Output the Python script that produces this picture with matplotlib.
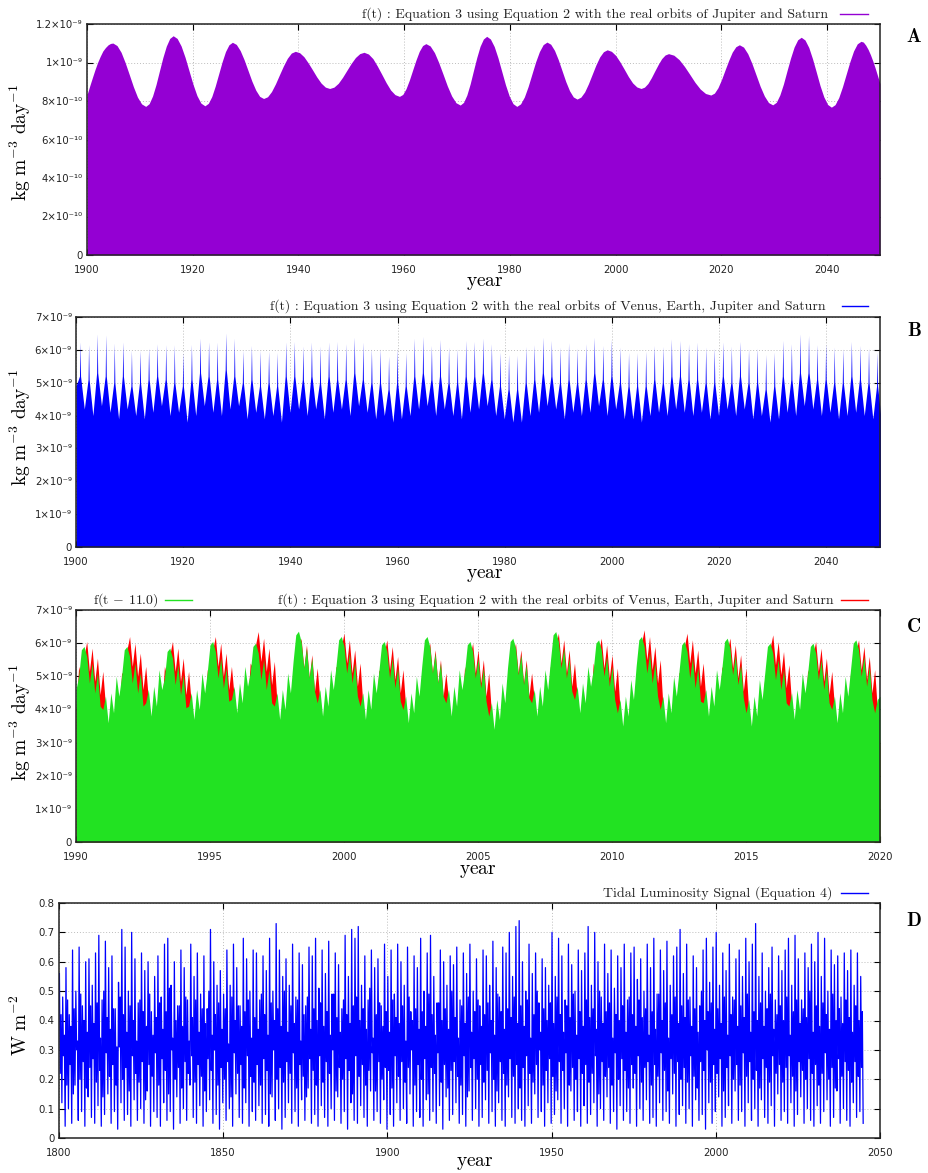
import numpy as np
import matplotlib
matplotlib.use("Agg")
import matplotlib.pyplot as plt
from matplotlib.lines import Line2D

plt.rcParams['mathtext.fontset'] = 'cm'
plt.rcParams['font.family'] = ['DejaVu Sans']

# ---------------- Panel A data (units of 1e-9 kg m^-3 day^-1), read along the upper envelope ----------------
A_year = [1900.0, 1900.5, 1901.0, 1901.5, 1902.0, 1902.5, 1903.0, 1903.5, 1904.0, 1904.45,
          1904.9, 1905.675, 1906.45, 1907.225, 1908.0, 1908.775, 1909.55, 1910.325,
          1911.1, 1911.75, 1912.4, 1913.05, 1913.7, 1914.35, 1915.0, 1915.65,
          1916.3, 1917.05, 1917.8, 1918.55, 1919.3, 1920.05, 1920.8, 1921.55,
          1922.3, 1922.95, 1923.6, 1924.25, 1924.9, 1925.55, 1926.2, 1926.85,
          1927.5, 1928.24, 1928.98, 1929.71, 1930.45, 1931.19, 1931.93, 1932.66,
          1933.4, 1934.15, 1934.9, 1935.65, 1936.4, 1937.15, 1937.9, 1938.65,
          1939.4, 1940.21, 1941.03, 1941.84, 1942.65, 1943.46, 1944.28, 1945.09,
          1945.9, 1946.71, 1947.53, 1948.34, 1949.15, 1949.96, 1950.78, 1951.59,
          1952.4, 1953.24, 1954.08, 1954.91, 1955.75, 1956.59, 1957.43, 1958.26,
          1959.1, 1959.73, 1960.35, 1960.98, 1961.6, 1962.23, 1962.85, 1963.48,
          1964.1, 1964.91, 1965.73, 1966.54, 1967.35, 1968.16, 1968.98, 1969.79,
          1970.6, 1971.23, 1971.85, 1972.48, 1973.1, 1973.73, 1974.35, 1974.98,
          1975.6, 1976.31, 1977.03, 1977.74, 1978.45, 1979.16, 1979.88, 1980.59,
          1981.3, 1982.01, 1982.73, 1983.44, 1984.15, 1984.86, 1985.58, 1986.29,
          1987.0, 1987.71, 1988.43, 1989.14, 1989.85, 1990.56, 1991.28, 1991.99,
          1992.7, 1993.41, 1994.13, 1994.84, 1995.55, 1996.26, 1996.98, 1997.69,
          1998.4, 1999.2, 2000.0, 2000.8, 2001.6, 2002.4, 2003.2, 2004.0,
          2004.8, 2005.45, 2006.1, 2006.75, 2007.4, 2008.05, 2008.7, 2009.35,
          2010.0, 2011.0, 2012.0, 2013.0, 2014.0, 2015.0, 2016.0, 2017.0,
          2018.0, 2018.68, 2019.35, 2020.03, 2020.7, 2021.38, 2022.05, 2022.73,
          2023.4, 2024.19, 2024.98, 2025.76, 2026.55, 2027.34, 2028.13, 2028.91,
          2029.7, 2030.38, 2031.05, 2031.73, 2032.4, 2033.08, 2033.75, 2034.43,
          2035.1, 2035.81, 2036.53, 2037.24, 2037.95, 2038.66, 2039.38, 2040.09,
          2040.8, 2041.5, 2042.2, 2042.9, 2043.6, 2044.3, 2045.0, 2045.7,
          2046.4, 2046.85, 2047.3, 2047.75, 2048.2, 2048.65, 2049.1, 2049.55, 2050.0]
A_val = [0.832, 0.877, 0.920, 0.962, 1.000, 1.032, 1.060, 1.078, 1.092, 1.099,
         1.101, 1.088, 1.053, 0.999, 0.937, 0.874, 0.820, 0.785,
         0.772, 0.786, 0.826, 0.885, 0.956, 1.026, 1.085, 1.125,
         1.139, 1.125, 1.086, 1.027, 0.957, 0.887, 0.828, 0.789,
         0.775, 0.788, 0.823, 0.877, 0.940, 1.003, 1.057, 1.092,
         1.105, 1.094, 1.062, 1.015, 0.959, 0.903, 0.856, 0.824,
         0.813, 0.822, 0.849, 0.889, 0.936, 0.982, 1.022, 1.049,
         1.058, 1.051, 1.030, 0.998, 0.962, 0.925, 0.893, 0.872,
         0.865, 0.872, 0.892, 0.923, 0.959, 0.995, 1.026, 1.046,
         1.053, 1.044, 1.020, 0.982, 0.939, 0.895, 0.857, 0.833,
         0.824, 0.834, 0.864, 0.909, 0.961, 1.013, 1.058, 1.088,
         1.098, 1.086, 1.051, 0.999, 0.939, 0.878, 0.826, 0.791,
         0.779, 0.793, 0.831, 0.889, 0.958, 1.026, 1.084, 1.122,
         1.136, 1.122, 1.083, 1.024, 0.954, 0.884, 0.825, 0.786,
         0.772, 0.785, 0.821, 0.875, 0.939, 1.003, 1.057, 1.093,
         1.106, 1.095, 1.063, 1.015, 0.958, 0.901, 0.853, 0.821,
         0.810, 0.820, 0.847, 0.889, 0.938, 0.987, 1.029, 1.056,
         1.066, 1.058, 1.037, 1.004, 0.966, 0.927, 0.894, 0.873,
         0.865, 0.872, 0.891, 0.921, 0.956, 0.990, 1.020, 1.039,
         1.046, 1.038, 1.015, 0.980, 0.939, 0.897, 0.862, 0.839,
         0.831, 0.841, 0.869, 0.912, 0.962, 1.011, 1.054, 1.082,
         1.092, 1.080, 1.046, 0.996, 0.936, 0.876, 0.826, 0.792,
         0.780, 0.793, 0.831, 0.888, 0.956, 1.023, 1.080, 1.118,
         1.131, 1.117, 1.078, 1.019, 0.950, 0.880, 0.821, 0.782,
         0.768, 0.781, 0.818, 0.874, 0.939, 1.004, 1.060, 1.097,
         1.110, 1.106, 1.090, 1.068, 1.040, 1.007, 0.970, 0.930, 0.890]

# ---------------- Panel B data (units of 1e-9) ----------------
B_first_spike = 1900.75
B_period = 1.599          # spacing of the tall spikes (Venus-Earth synodic period)
B_peak = [6.24, 6.16, 6.49, 6.46, 6.21, 6.24, 5.99, 5.99, 6.06, 6.19,
          6.16, 6.16, 5.92, 6.17, 6.36, 6.24, 6.24, 6.52, 6.36, 5.99,
          6.14, 5.99, 5.96, 5.92, 6.24, 6.26, 6.12, 6.24, 6.12, 6.24,
          6.26, 6.19, 6.39, 6.24, 6.04, 6.04, 5.81, 6.04, 5.92, 6.36,
          6.41, 6.14, 6.32, 6.09, 6.04,
          6.29, 6.26, 6.36, 6.19, 5.94, 5.86, 5.84, 6.11, 6.16, 6.39,
          6.29, 6.09, 6.22, 6.06, 6.19, 6.39, 6.14, 6.32, 6.09, 5.92,
          5.92, 5.96, 6.14, 6.11, 6.34, 6.29, 6.19, 6.24, 6.09, 6.06,
          6.24, 6.12, 6.26, 6.04, 6.06, 5.86, 5.94, 6.29, 6.19, 6.49,
          6.44, 6.16, 6.19, 6.09, 6.04, 6.26, 6.14, 6.06, 5.94]
B_second = [5.2, 5.1, 5.3, 5.2, 5.0, 5.2, 4.9, 5.0, 5.1, 5.2,
            5.1, 5.0, 4.9, 5.1, 5.3, 5.2, 5.1, 5.4, 5.2, 5.0,
            5.1, 4.9, 5.0, 4.9, 5.2, 5.2, 5.1, 5.2, 5.0, 5.2,
            5.1, 5.1, 5.3, 5.1, 5.0, 5.0, 4.8, 5.0, 4.9, 5.2,
            5.3, 5.1, 5.2, 5.0, 5.0,
            5.2, 5.2, 5.3, 5.1, 4.9, 4.8, 4.8, 5.0, 5.1, 5.3,
            5.2, 5.0, 5.1, 5.0, 5.1, 5.3, 5.1, 5.2, 5.0, 4.9,
            4.9, 4.9, 5.1, 5.0, 5.2, 5.2, 5.1, 5.1, 5.0, 5.0,
            5.2, 5.0, 5.2, 5.0, 5.0, 4.8, 4.9, 5.2, 5.1, 5.3,
            5.3, 5.1, 5.1, 5.0, 5.0, 5.2, 5.1, 5.0, 4.9]
B_dip = [4.2, 4.0, 4.3, 4.1, 3.9, 4.2, 4.0, 3.9, 4.1, 4.3,
         4.0, 4.1, 3.8, 4.0, 4.3, 4.1, 4.0, 4.2, 4.3, 3.9,
         4.1, 3.9, 4.0, 3.8, 4.1, 4.2, 4.0, 4.2, 3.9, 4.1,
         4.2, 4.0, 4.3, 4.1, 3.9, 4.0, 3.8, 3.9, 4.0, 4.2,
         4.3, 4.0, 4.2, 4.0, 3.9,
         4.1, 4.2, 4.3, 4.0, 3.9, 3.8, 3.8, 4.0, 4.1, 4.3,
         4.2, 3.9, 4.1, 4.0, 4.1, 4.3, 4.0, 4.2, 3.9, 3.9,
         3.8, 4.0, 4.1, 4.0, 4.2, 4.1, 4.0, 4.1, 3.9, 4.0,
         4.2, 4.0, 4.2, 3.9, 4.0, 3.8, 3.9, 4.1, 4.0, 4.3,
         4.2, 4.0, 4.1, 3.9, 4.0, 4.1, 4.0, 3.9, 3.8]
B_start_val = 4.9

# ---------------- Panel C data (units of 1e-9), one value every 0.1 yr from 1990 ----------------
C_start = 1990.0
C_step = 0.1
C_red = [4.0, 5.3, 4.9, 5.6,
 6.05, 5.15, 5.85, 4.85, 5.55, 4.45, 5.15, 4.1, 3.0, 4.0, 3.3, 4.5, 3.8, 5.1, 5.1, 5.8,
 6.2, 5.3, 6.0, 5.0, 5.7, 4.6, 5.3, 4.3, 3.2, 4.2, 3.5, 4.7, 4.0, 5.3, 4.95, 5.65,
 6.05, 5.15, 5.85, 4.85, 5.55, 4.45, 5.15, 4.2, 3.1, 4.1, 3.4, 4.6, 3.9, 5.2, 5.1, 5.8,
 6.2, 5.3, 6.0, 5.0, 5.7, 4.6, 5.3, 4.4, 3.3, 4.3, 3.6, 4.8, 4.1, 5.4, 5.25, 5.95,
 6.35, 5.45, 6.15, 5.15, 5.85, 4.75, 5.45, 4.2, 3.1, 4.1, 3.4, 4.6, 3.9, 5.2, 5.05, 5.75,
 6.15, 5.25, 5.95, 4.95, 5.65, 4.55, 5.25, 4.3, 3.2, 4.2, 3.5, 4.7, 4.0, 5.3, 5.2, 5.9,
 6.3, 5.4, 6.1, 5.1, 5.8, 4.7, 5.4, 4.2, 3.1, 4.1, 3.4, 4.6, 3.9, 5.2, 5.0, 5.7,
 6.1, 5.2, 5.9, 4.9, 5.6, 4.5, 5.2, 4.1, 3.0, 4.0, 3.3, 4.5, 3.8, 5.1, 4.9, 5.6,
 6.0, 5.1, 5.8, 4.8, 5.5, 4.4, 5.1, 4.3, 3.2, 4.2, 3.5, 4.7, 4.0, 5.3, 4.9, 5.6,
 6.0, 5.1, 5.8, 4.8, 5.5, 4.4, 5.1, 3.9, 2.8, 3.8, 3.1, 4.3, 3.6, 4.9, 4.9, 5.6,
 6.0, 5.1, 5.8, 4.8, 5.5, 4.4, 5.1, 4.3, 3.2, 4.2, 3.5, 4.7, 4.0, 5.3, 5.2, 5.9,
 6.3, 5.4, 6.1, 5.1, 5.8, 4.7, 5.4, 4.4, 3.3, 4.3, 3.6, 4.8, 4.1, 5.4, 5.05, 5.75,
 6.15, 5.25, 5.95, 4.95, 5.65, 4.55, 5.25, 4.0, 2.9, 3.9, 3.2, 4.4, 3.7, 5.0, 5.3, 6.0,
 6.4, 5.5, 6.2, 5.2, 5.9, 4.8, 5.5, 4.1, 3.0, 4.0, 3.3, 4.5, 3.8, 5.1, 5.2, 5.9,
 6.3, 5.4, 6.1, 5.1, 5.8, 4.7, 5.4, 4.3, 3.2, 4.2, 3.5, 4.7, 4.0, 5.3, 5.05, 5.75,
 6.15, 5.25, 5.95, 4.95, 5.65, 4.55, 5.25, 4.0, 2.9, 3.9, 3.2, 4.4, 3.7, 5.0, 5.15, 5.85,
 6.25, 5.35, 6.05, 5.05, 5.75, 4.65, 5.35, 4.2, 3.1, 4.1, 3.4, 4.6, 3.9, 5.2, 4.95, 5.65,
 6.05, 5.15, 5.85, 4.85, 5.55, 4.45, 5.15, 4.1, 3.0, 4.0, 3.3, 4.5, 3.8, 5.1, 5.0, 5.7,
 6.1, 5.2, 5.9, 4.9, 5.6, 4.5, 5.2, 4.0, 2.9]
C_green = [4.6, 5.0, 5.8,
 5.9, 5.6, 4.8, 5.4, 4.5, 5.1, 4.1, 4.0, 4.4, 3.6, 4.5, 3.9, 5.0, 4.4, 5.0, 5.8,
 5.9, 5.6, 4.8, 5.4, 4.5, 5.1, 4.1, 4.2, 4.6, 3.8, 4.7, 4.1, 5.2, 4.6, 4.95, 5.75,
 5.85, 5.55, 4.75, 5.35, 4.45, 5.05, 4.05, 4.1, 4.5, 3.7, 4.6, 4.0, 5.1, 4.5, 5.15, 5.95,
 6.05, 5.75, 4.95, 5.55, 4.65, 5.25, 4.25, 4.3, 4.7, 3.9, 4.8, 4.2, 5.3, 4.7, 5.1, 5.9,
 6.0, 5.7, 4.9, 5.5, 4.6, 5.2, 4.2, 4.1, 4.5, 3.7, 4.6, 4.0, 5.1, 4.5, 5.45, 6.25,
 6.36, 6.05, 5.25, 5.85, 4.95, 5.55, 4.55, 4.2, 4.6, 3.8, 4.7, 4.1, 5.2, 4.6, 5.3, 6.1,
 6.2, 5.9, 5.1, 5.7, 4.8, 5.4, 4.4, 4.1, 4.5, 3.7, 4.6, 4.0, 5.1, 4.5, 5.15, 5.95,
 6.05, 5.75, 4.95, 5.55, 4.65, 5.25, 4.25, 4.0, 4.4, 3.6, 4.5, 3.9, 5.0, 4.4, 5.3, 6.1,
 6.2, 5.9, 5.1, 5.7, 4.8, 5.4, 4.4, 4.2, 4.6, 3.8, 4.7, 4.1, 5.2, 4.6, 5.15, 5.95,
 6.05, 5.75, 4.95, 5.55, 4.65, 5.25, 4.25, 3.8, 4.2, 3.4, 4.3, 3.7, 4.8, 4.2, 5.25, 6.05,
 6.15, 5.85, 5.05, 5.65, 4.75, 5.35, 4.35, 4.2, 4.6, 3.8, 4.7, 4.1, 5.2, 4.6, 5.45, 6.25,
 6.35, 6.05, 5.25, 5.85, 4.95, 5.55, 4.55, 4.3, 4.7, 3.9, 4.8, 4.2, 5.3, 4.7, 5.2, 6.0,
 6.1, 5.8, 5.0, 5.6, 4.7, 5.3, 4.3, 3.9, 4.3, 3.5, 4.4, 3.8, 4.9, 4.3, 5.3, 6.1,
 6.2, 5.9, 5.1, 5.7, 4.8, 5.4, 4.4, 4.0, 4.4, 3.6, 4.5, 3.9, 5.0, 4.4, 5.15, 5.95,
 6.05, 5.75, 4.95, 5.55, 4.65, 5.25, 4.25, 4.2, 4.6, 3.8, 4.7, 4.1, 5.2, 4.6, 5.25, 6.05,
 6.15, 5.85, 5.05, 5.65, 4.75, 5.35, 4.35, 3.9, 4.3, 3.5, 4.4, 3.8, 4.9, 4.3, 5.1, 5.9,
 6.0, 5.7, 4.9, 5.5, 4.6, 5.2, 4.2, 4.1, 4.5, 3.7, 4.6, 4.0, 5.1, 4.5, 5.1, 5.9,
 6.0, 5.7, 4.9, 5.5, 4.6, 5.2, 4.2, 4.0, 4.4, 3.6, 4.5, 3.9, 5.0, 4.4, 5.2, 6.0,
 6.1, 5.8, 5.0, 5.6, 4.7, 5.3, 4.3, 3.9, 4.3, 4.4]

# ---------------- Panel D data (W m^-2): four turning points per year ----------------
# main maximum (+0.125 yr), secondary minimum (+0.375), secondary maximum (+0.625), main minimum (+0.875)
D_start = 1800
D_high = [0.56, 0.48, 0.58, 0.42, 0.64, 0.50, 0.65, 0.45, 0.60, 0.61,
          0.52, 0.63, 0.69, 0.47, 0.67, 0.58, 0.62, 0.44, 0.53, 0.71,
          0.65, 0.50, 0.70, 0.61, 0.46, 0.63, 0.57, 0.60, 0.43, 0.55,
          0.62, 0.48, 0.66, 0.68, 0.52, 0.60, 0.45, 0.64, 0.58, 0.47,
          0.66, 0.55, 0.63, 0.49, 0.62, 0.44, 0.71, 0.60, 0.52, 0.57,
          0.49, 0.64, 0.52, 0.66, 0.58, 0.45, 0.68, 0.61, 0.50, 0.64,
          0.63, 0.47, 0.62, 0.57, 0.68, 0.50, 0.73, 0.64, 0.55, 0.61,
          0.52, 0.66, 0.48, 0.63, 0.59, 0.45, 0.65, 0.62, 0.68, 0.51,
          0.64, 0.56, 0.67, 0.49, 0.63, 0.59, 0.44, 0.69, 0.55, 0.71,
          0.68, 0.72, 0.52, 0.62, 0.47, 0.64, 0.58, 0.61, 0.45, 0.66,
          0.55, 0.64, 0.49, 0.66, 0.60, 0.52, 0.65, 0.43, 0.62, 0.58,
          0.68, 0.50, 0.63, 0.69, 0.55, 0.46, 0.64, 0.60, 0.52, 0.62,
          0.59, 0.65, 0.47, 0.63, 0.56, 0.66, 0.50, 0.61, 0.45, 0.64,
          0.62, 0.52, 0.67, 0.58, 0.48, 0.65, 0.63, 0.70, 0.55, 0.72,
          0.74, 0.60, 0.50, 0.66, 0.56, 0.63, 0.46, 0.61, 0.58, 0.52,
          0.70, 0.55, 0.68, 0.62, 0.47, 0.66, 0.59, 0.50, 0.64, 0.57,
          0.63, 0.72, 0.52, 0.70, 0.60, 0.48, 0.66, 0.56, 0.64, 0.51,
          0.62, 0.58, 0.66, 0.47, 0.63, 0.65, 0.54, 0.61, 0.50, 0.66,
          0.58, 0.68, 0.49, 0.64, 0.57, 0.67, 0.52, 0.62, 0.65, 0.71,
          0.56, 0.66, 0.48, 0.62, 0.58, 0.45, 0.64, 0.68, 0.53, 0.65,
          0.70, 0.52, 0.63, 0.57, 0.66, 0.48, 0.61, 0.64, 0.55, 0.68,
          0.60, 0.66, 0.73, 0.55, 0.63, 0.50, 0.58, 0.65, 0.47, 0.62,
          0.57, 0.64, 0.68, 0.52, 0.69, 0.61, 0.47, 0.63, 0.58, 0.66,
          0.60, 0.70, 0.55, 0.68, 0.50, 0.64, 0.59, 0.62, 0.48, 0.63,
          0.57, 0.64, 0.52, 0.63, 0.55]
D_low2 = [0.22, 0.28, 0.18, 0.25, 0.15, 0.30, 0.20, 0.26, 0.17, 0.24,
          0.27, 0.19, 0.23, 0.14, 0.29, 0.21, 0.25, 0.18, 0.31, 0.20,
          0.24, 0.16, 0.28, 0.22, 0.19, 0.26, 0.13, 0.25, 0.21, 0.29,
          0.18, 0.27, 0.23, 0.15, 0.30, 0.20, 0.24, 0.17, 0.26, 0.22,
          0.28, 0.19, 0.25, 0.21, 0.16, 0.27, 0.23, 0.30, 0.18, 0.24,
          0.20, 0.26, 0.14, 0.29, 0.22, 0.25, 0.17, 0.28, 0.21, 0.19,
          0.25, 0.18, 0.27, 0.23, 0.15, 0.30, 0.20, 0.24, 0.19, 0.26,
          0.22, 0.29, 0.17, 0.25, 0.21, 0.14, 0.27, 0.23, 0.18, 0.28,
          0.19, 0.26, 0.22, 0.30, 0.16, 0.24, 0.20, 0.27, 0.23, 0.15,
          0.28, 0.21, 0.25, 0.18, 0.23, 0.29, 0.16, 0.26, 0.20, 0.24,
          0.23, 0.17, 0.28, 0.21, 0.26, 0.19, 0.24, 0.30, 0.18, 0.25,
          0.20, 0.27, 0.15, 0.24, 0.22, 0.29, 0.19, 0.25, 0.17, 0.23,
          0.26, 0.21, 0.18, 0.28, 0.14, 0.24, 0.27, 0.20, 0.25, 0.19,
          0.23, 0.29, 0.20, 0.16, 0.26, 0.22, 0.18, 0.27, 0.21, 0.25,
          0.17, 0.24, 0.28, 0.22, 0.19, 0.25, 0.30, 0.18, 0.23, 0.27,
          0.21, 0.16, 0.26, 0.23, 0.29, 0.18, 0.24, 0.20, 0.27, 0.22,
          0.25, 0.19, 0.22, 0.28, 0.15, 0.26, 0.21, 0.24, 0.18, 0.29,
          0.20, 0.27, 0.23, 0.17, 0.25, 0.22, 0.28, 0.19, 0.24, 0.26,
          0.18, 0.25, 0.21, 0.29, 0.23, 0.16, 0.27, 0.22, 0.26, 0.20,
          0.24, 0.19, 0.28, 0.21, 0.17, 0.26, 0.23, 0.30, 0.19, 0.25,
          0.22, 0.27, 0.16, 0.24, 0.28, 0.20, 0.25, 0.18, 0.29, 0.21,
          0.26, 0.20, 0.23, 0.17, 0.27, 0.24, 0.19, 0.28, 0.22, 0.25,
          0.19, 0.24, 0.28, 0.21, 0.16, 0.26, 0.23, 0.20, 0.27, 0.22,
          0.25, 0.18, 0.22, 0.29, 0.20, 0.24, 0.17, 0.27, 0.21, 0.26,
          0.23, 0.19, 0.26, 0.21, 0.24]
D_high2 = [0.42, 0.35, 0.47, 0.38, 0.44, 0.33, 0.49, 0.40, 0.36, 0.45,
           0.39, 0.46, 0.34, 0.50, 0.41, 0.37, 0.44, 0.31, 0.48, 0.42,
           0.36, 0.45, 0.40, 0.33, 0.47, 0.43, 0.38, 0.49, 0.35, 0.41,
           0.46, 0.37, 0.43, 0.51, 0.34, 0.40, 0.45, 0.38, 0.48, 0.33,
           0.41, 0.47, 0.36, 0.44, 0.39, 0.50, 0.35, 0.42, 0.46, 0.37,
           0.44, 0.32, 0.48, 0.40, 0.45, 0.38, 0.43, 0.47, 0.34, 0.41,
           0.37, 0.49, 0.42, 0.35, 0.46, 0.40, 0.44, 0.38, 0.50, 0.36,
           0.45, 0.39, 0.47, 0.33, 0.42, 0.48, 0.37, 0.44, 0.40, 0.46,
           0.38, 0.43, 0.35, 0.49, 0.41, 0.36, 0.47, 0.42, 0.39, 0.45,
           0.48, 0.40, 0.44, 0.37, 0.51, 0.34, 0.42, 0.46, 0.38, 0.43,
           0.36, 0.47, 0.41, 0.39, 0.45, 0.33, 0.48, 0.40, 0.44, 0.37,
           0.43, 0.38, 0.49, 0.42, 0.35, 0.46, 0.40, 0.44, 0.37, 0.50,
           0.41, 0.34, 0.45, 0.39, 0.48, 0.36, 0.43, 0.47, 0.38, 0.42,
           0.46, 0.40, 0.35, 0.49, 0.43, 0.37, 0.44, 0.41, 0.48, 0.39,
           0.45, 0.38, 0.47, 0.34, 0.42, 0.50, 0.36, 0.44, 0.40, 0.46,
           0.39, 0.48, 0.42, 0.36, 0.45, 0.41, 0.49, 0.35, 0.43, 0.38,
           0.47, 0.41, 0.44, 0.37, 0.50, 0.39, 0.43, 0.46, 0.34, 0.42,
           0.40, 0.45, 0.36, 0.48, 0.42, 0.38, 0.47, 0.41, 0.44, 0.35,
           0.43, 0.37, 0.49, 0.40, 0.46, 0.34, 0.42, 0.48, 0.39, 0.45,
           0.41, 0.47, 0.38, 0.44, 0.36, 0.50, 0.40, 0.43, 0.46, 0.37,
           0.44, 0.39, 0.48, 0.35, 0.42, 0.47, 0.38, 0.45, 0.41, 0.49,
           0.36, 0.43, 0.40, 0.46, 0.38, 0.44, 0.49, 0.37, 0.42, 0.45,
           0.40, 0.48, 0.35, 0.43, 0.47, 0.39, 0.44, 0.41, 0.50, 0.36,
           0.45, 0.38, 0.46, 0.42, 0.37, 0.49, 0.40, 0.44, 0.39, 0.47,
           0.41, 0.36, 0.45, 0.40, 0.43]
D_low = [0.12, 0.04, 0.10, 0.05, 0.18, 0.06, 0.09, 0.04, 0.14, 0.07,
         0.05, 0.11, 0.04, 0.08, 0.15, 0.05, 0.09, 0.03, 0.12, 0.06,
         0.08, 0.04, 0.13, 0.06, 0.10, 0.05, 0.16, 0.04, 0.09, 0.07,
         0.04, 0.12, 0.06, 0.09, 0.03, 0.14, 0.05, 0.10, 0.06, 0.18,
         0.07, 0.05, 0.11, 0.04, 0.09, 0.13, 0.05, 0.08, 0.03, 0.12,
         0.06, 0.10, 0.04, 0.15, 0.07, 0.05, 0.12, 0.04, 0.09, 0.06,
         0.11, 0.05, 0.08, 0.04, 0.14, 0.06, 0.10, 0.03, 0.07, 0.12,
         0.05, 0.09, 0.04, 0.13, 0.06, 0.17, 0.05, 0.08, 0.04, 0.11,
         0.07, 0.04, 0.10, 0.06, 0.14, 0.05, 0.09, 0.03, 0.12, 0.06,
         0.05, 0.11, 0.07, 0.04, 0.16, 0.06, 0.09, 0.05, 0.13, 0.03,
         0.08, 0.04, 0.12, 0.06, 0.10, 0.05, 0.15, 0.04, 0.09, 0.07,
         0.04, 0.13, 0.06, 0.09, 0.05, 0.11, 0.03, 0.14, 0.06, 0.08,
         0.12, 0.05, 0.08, 0.04, 0.16, 0.06, 0.10, 0.04, 0.07, 0.13,
         0.05, 0.09, 0.04, 0.12, 0.06, 0.04, 0.14, 0.07, 0.05, 0.10,
         0.06, 0.04, 0.11, 0.05, 0.15, 0.07, 0.09, 0.04, 0.12, 0.05,
         0.08, 0.13, 0.05, 0.10, 0.04, 0.16, 0.06, 0.09, 0.04, 0.11,
         0.05, 0.08, 0.12, 0.04, 0.10, 0.06, 0.14, 0.05, 0.09, 0.03,
         0.11, 0.06, 0.09, 0.05, 0.17, 0.04, 0.10, 0.06, 0.13, 0.05,
         0.07, 0.04, 0.12, 0.06, 0.09, 0.05, 0.15, 0.04, 0.08, 0.11,
         0.05, 0.10, 0.04, 0.13, 0.06, 0.08, 0.03, 0.12, 0.05, 0.09,
         0.14, 0.04, 0.07, 0.11, 0.05, 0.16, 0.06, 0.09, 0.04, 0.12,
         0.06, 0.10, 0.04, 0.13, 0.07, 0.05, 0.11, 0.04, 0.15, 0.06,
         0.09, 0.05, 0.12, 0.04, 0.08, 0.14, 0.05, 0.10, 0.06, 0.04,
         0.11, 0.05, 0.09, 0.13, 0.04, 0.07, 0.16, 0.05, 0.10, 0.06,
         0.04, 0.12, 0.07, 0.09, 0.05]

# ---------------- tick labels ----------------
A_yticks = [0, 0.2, 0.4, 0.6, 0.8, 1.0, 1.2]
A_ylabels = ['0', '2×10⁻¹⁰', '4×10⁻¹⁰', '6×10⁻¹⁰', '8×10⁻¹⁰', '1×10⁻⁹', '1.2×10⁻⁹']
BC_yticks = [0, 1, 2, 3, 4, 5, 6, 7]
BC_ylabels = ['0', '1×10⁻⁹', '2×10⁻⁹', '3×10⁻⁹', '4×10⁻⁹', '5×10⁻⁹', '6×10⁻⁹', '7×10⁻⁹']
AB_xticks = [1900, 1920, 1940, 1960, 1980, 2000, 2020, 2040]
C_xticks = [1990, 1995, 2000, 2005, 2010, 2015, 2020]
D_xticks = [1800, 1850, 1900, 1950, 2000, 2050]
D_yticks = [0, 0.1, 0.2, 0.3, 0.4, 0.5, 0.6, 0.7, 0.8]
D_ylabels = ['0', '0.1', '0.2', '0.3', '0.4', '0.5', '0.6', '0.7', '0.8']

PURPLE = '#9400D3'
BLUE = '#0000FF'
RED = '#FF0000'
GREEN = '#22E222'

W, H = 929.0, 1173.0
fig = plt.figure(figsize=(W / 100, H / 100), dpi=100)


def box(x0, y0, x1, y1):
    return [x0 / W, 1 - y1 / H, (x1 - x0) / W, (y1 - y0) / H]


def style(ax, xticks, xlim, yticks, ylabels, ylim):
    ax.set_xlim(*xlim)
    ax.set_ylim(*ylim)
    ax.set_xticks(xticks)
    ax.set_xticklabels([str(v) for v in xticks])
    ax.set_yticks(yticks)
    ax.set_yticklabels(ylabels)
    ax.tick_params(direction='in', top=True, right=True, length=4, width=0.8,
                   labelsize=7.3, labelcolor='#222222')
    ax.tick_params(axis='x', pad=7)
    ax.tick_params(axis='y', pad=3)
    ax.set_axisbelow(True)
    ax.grid(True, color='#bdbdbd', linestyle=(0, (1, 2)), linewidth=0.7)
    for s in ax.spines.values():
        s.set_linewidth(1.1)
        s.set_color('#222222')


def legend_line(x0, x1, y, color):
    fig.add_artist(Line2D([x0 / W, x1 / W], [1 - y / H, 1 - y / H], color=color,
                          lw=1.0, transform=fig.transFigure))


def ftext(x, y, s, **kw):
    fig.text(x / W, 1 - y / H, s, **kw)


SERIF = dict(family='cmr10', fontsize=10.0, color='#222222')
YLAB = r'$\mathrm{kg\ m^{-3}\ day^{-1}}$'

# ---------------- Panel A ----------------
axA = fig.add_axes(box(87, 24, 880, 255))
axA.fill_between(A_year, 0, A_val, color=PURPLE, lw=0)
style(axA, AB_xticks, (1900, 2050), A_yticks, A_ylabels, (0, 1.2))
ftext(828, 14, 'f(t) : Equation 3 using Equation 2 with the real orbits of Jupiter and Saturn',
      ha='right', va='center', **SERIF)
legend_line(840, 868, 14, PURPLE)
ftext(20, 142, YLAB, rotation=90, ha='center', va='center', fontsize=14)
ftext(485, 282, r'$\mathrm{year}$', ha='center', va='center', fontsize=14)
ftext(914, 37, r'$\mathbf{A}$', ha='center', va='center', fontsize=14)

# ---------------- Panel B ----------------
axB = fig.add_axes(box(76, 317, 880, 547))
B_t = B_first_spike + B_period * np.arange(len(B_peak))
bx, by = [1900.0], [B_start_val]
for t, p, s, d in zip(B_t, B_peak, B_second, B_dip):
    bx += [t - 0.1, t, t + 0.1, t + 0.8]
    by += [s, p, s, d]
axB.fill_between(bx, 0, by, color=BLUE, lw=0)
style(axB, AB_xticks, (1900, 2050), BC_yticks, BC_ylabels, (0, 7))
ftext(826, 306, 'f(t) : Equation 3 using Equation 2 with the real orbits of Venus, Earth, Jupiter and Saturn',
      ha='right', va='center', **SERIF)
legend_line(842, 868, 306, BLUE)
ftext(20, 427, YLAB, rotation=90, ha='center', va='center', fontsize=14)
ftext(485, 574, r'$\mathrm{year}$', ha='center', va='center', fontsize=14)
ftext(914, 330, r'$\mathbf{B}$', ha='center', va='center', fontsize=14)

# ---------------- Panel C ----------------
axC = fig.add_axes(box(76, 610, 880, 842))
tC = C_start + C_step * np.arange(len(C_red))
axC.fill_between(tC, 0, C_red, color=RED, lw=0)
axC.fill_between(tC[:len(C_green)], 0, C_green, color=GREEN, lw=0)
style(axC, C_xticks, (1990, 2020), BC_yticks, BC_ylabels, (0, 7))
ftext(93, 600, r'f(t $-$ 11.0)', ha='left', va='center', **SERIF)
legend_line(165, 192, 600, GREEN)
ftext(834, 600, 'f(t) : Equation 3 using Equation 2 with the real orbits of Venus, Earth, Jupiter and Saturn',
      ha='right', va='center', **SERIF)
legend_line(841, 868, 600, RED)
ftext(20, 722, YLAB, rotation=90, ha='center', va='center', fontsize=14)
ftext(478, 871, r'$\mathrm{year}$', ha='center', va='center', fontsize=14)
ftext(914, 627, r'$\mathbf{C}$', ha='center', va='center', fontsize=14)

# ---------------- Panel D ----------------
axD = fig.add_axes(box(59, 903, 880, 1138))
n = len(D_high)
yrs = D_start + np.arange(n)
tD = np.empty(4 * n)
vD = np.empty(4 * n)
tD[0::4] = yrs + 0.125
tD[1::4] = yrs + 0.375
tD[2::4] = yrs + 0.625
tD[3::4] = yrs + 0.875
vD[0::4] = D_high
vD[1::4] = D_low2
vD[2::4] = D_high2
vD[3::4] = D_low
axD.plot(tD, vD, color=BLUE, lw=0.9)
style(axD, D_xticks, (1800, 2050), D_yticks, D_ylabels, (0, 0.8))
ftext(832, 893, 'Tidal Luminosity Signal (Equation 4)', ha='right', va='center', **SERIF)
legend_line(841, 868, 893, BLUE)
ftext(20, 1025, r'$\mathrm{W\ m^{-2}}$', rotation=90, ha='center', va='center', fontsize=14)
ftext(475, 1163, r'$\mathrm{year}$', ha='center', va='center', fontsize=14)
ftext(914, 920, r'$\mathbf{D}$', ha='center', va='center', fontsize=14)

fig.savefig('out.png', dpi=100)
